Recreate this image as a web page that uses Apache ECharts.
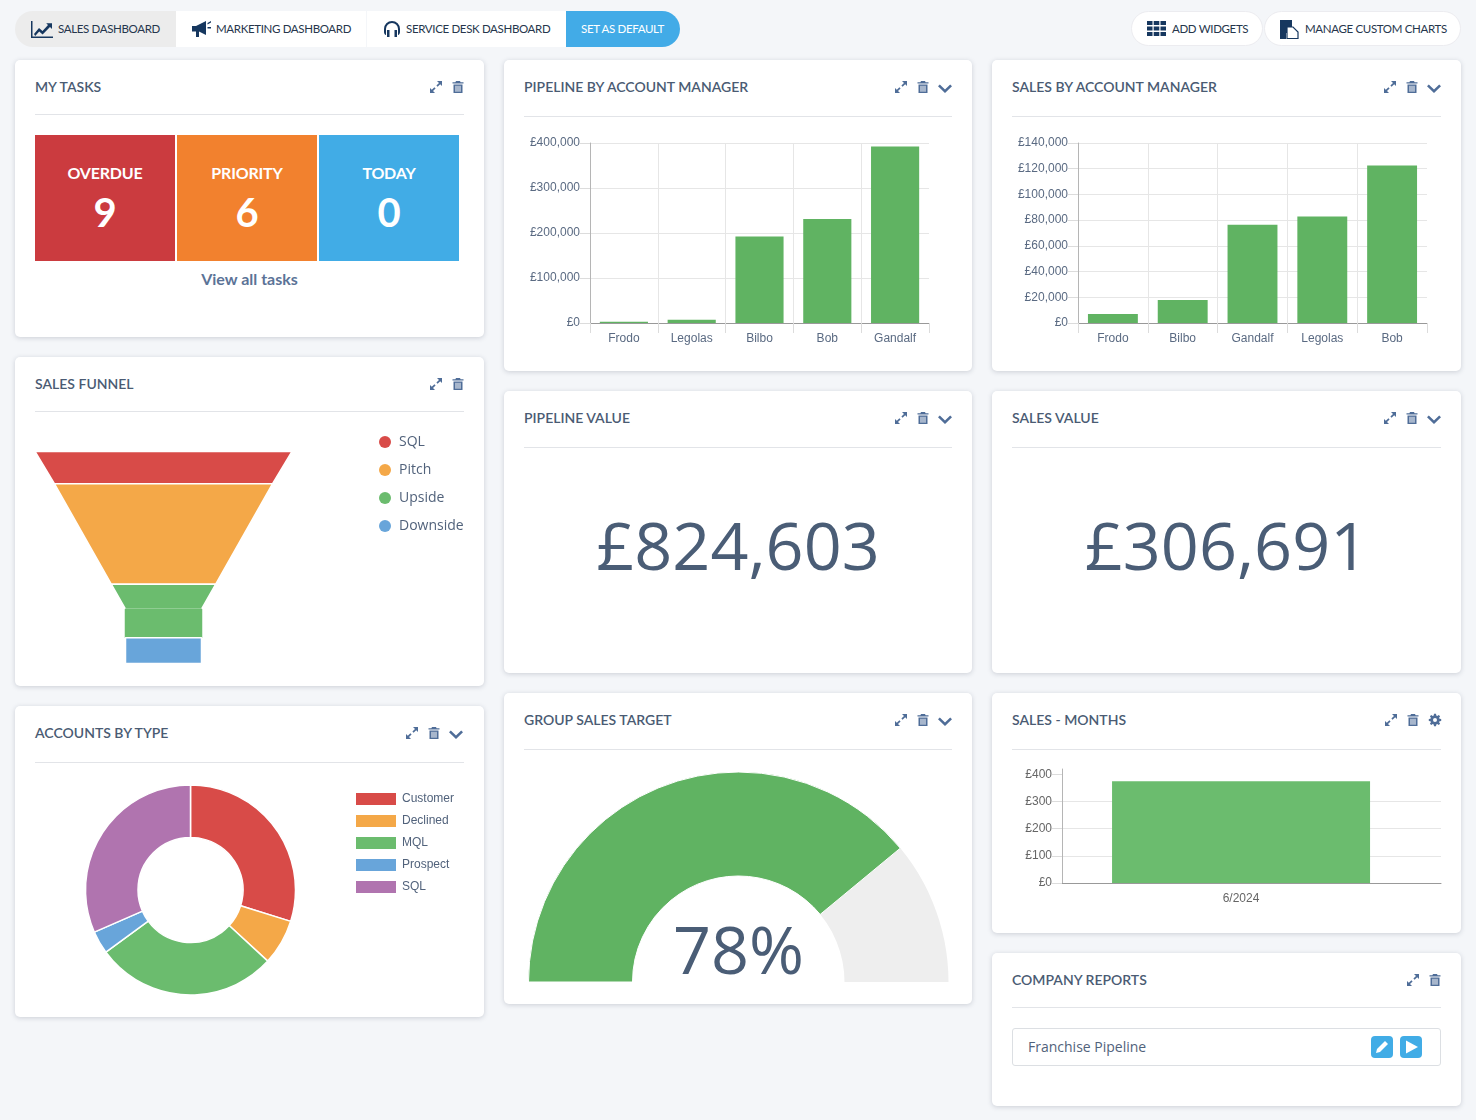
<!DOCTYPE html>
<html>
<head>
<meta charset="utf-8">
<title>Sales dashboard</title>
<script src="https://cdn.jsdelivr.net/npm/echarts@6/dist/echarts.min.js"></script>
<style>
  html, body { margin: 0; padding: 0; }
  body { position: relative; width: 1476px; height: 1120px; overflow: hidden; background: #f4f6f9; font-family: Lato, sans-serif; color: #46586f; }
  .t { position: absolute; white-space: nowrap; }
  .card { position: absolute; background: #fff; border-radius: 5px; box-shadow: 0 1px 5px rgba(60, 70, 90, .22); }
  .card h3 { position: absolute; left: 20px; top: 18px; margin: 0; font: 600 14px/18px Lato, sans-serif; color: #4a5b73; white-space: nowrap; }
  .card hr { position: absolute; left: 20px; right: 20px; margin: 0; border: 0; border-top: 1px solid #e2e4e8; }
  .chart { position: absolute; left: 0; width: 100%; }
  .ic { position: absolute; top: 20px; width: 14px; height: 14px; fill: #4f6d98; }
  .pill { position: absolute; top: 11px; height: 36px; background: #fff; }
  .tab { font: 400 11.500px/36px Lato, sans-serif; letter-spacing: -.34px; color: #26364c; }
  .tile { position: absolute; top: 135px; width: 140px; height: 126px; color: #fff; text-align: center; }
  .tile b { display: block; font: 700 16px/20px Lato, sans-serif; letter-spacing: -.2px; margin-top: 28px; }
  .tile span { display: block; font: 700 40px/48px Lato, sans-serif; margin-top: 5px; }
  .big { position: absolute; left: 0; width: 100%; text-align: center; font: 400 66.500px/80px "Open Sans", sans-serif; color: #4a5d76; }
</style>
</head>
<body>
<svg width="0" height="0" style="position:absolute">
  <symbol id="i-expand" viewBox="0 0 14 14"><path d="M8 1h5v5l-1.800-1.800-2.600 2.600-1.200-1.200 2.600-2.600zM6 13H1V8l1.800 1.800 2.600-2.600 1.200 1.200-2.600 2.600z"/></symbol>
  <symbol id="i-trash" viewBox="0 0 14 14"><path d="M5 1h4l.6 1.200H12.500v1.300h-11V2.200h2.900zM2.500 4.500h9V13h-9zM4.500 5.800v5.900h1V5.800zM6.500 5.800v5.900h1V5.800zM8.500 5.800v5.900h1V5.800z" fill-rule="evenodd"/></symbol>
  <symbol id="i-chev" viewBox="0 0 14 14"><path d="M1.800 3.500 7 8.500l5.200-5 1.800 1.800L7 12 0 5.300z"/></symbol>
  <symbol id="i-gear" viewBox="0 0 14 14"><path fill-rule="evenodd" d="M6 .8h2l.3 1.700 1 .4 1.400-1 1.400 1.400-1 1.400.4 1 1.700.3v2l-1.700.3-.4 1 1 1.400-1.400 1.400-1.400-1-1 .4-.3 1.700H6l-.3-1.700-1-.4-1.400 1-1.400-1.400 1-1.400-.4-1L.8 8V6l1.700-.3.4-1-1-1.400 1.400-1.400 1.400 1 1-.4zM7 5a2 2 0 1 0 0 4 2 2 0 0 0 0-4z"/></symbol>
</svg>

<!-- top bar -->
<div class="pill" style="left:15px;width:161px;background:#ececec;border-radius:18px 0 0 18px"></div>
<div class="pill" style="left:176px;width:190px;"></div>
<div class="pill" style="left:367px;width:199px;"></div>
<div class="pill" style="left:566px;width:114px;background:#42abe7;border-radius:0 18px 18px 0"></div>
<svg class="t" style="left:31px;top:21px" width="22" height="17" viewBox="0 0 22 17" fill="#16375f"><path d="M0 0h1.500v15.500H22V17H0z"/><path d="M3 13l5-6 3.500 3L17 4l-1.800-1.800H21V8l-2-2-7.400 7.500L8.200 10.500 4.200 15z"/></svg>
<div class="t tab" style="left:58px;top:11px">SALES DASHBOARD</div>
<svg class="t" style="left:192px;top:21px" width="19" height="17" viewBox="0 0 19 17" fill="#16375f"><path d="M0 5h4l10-5v14L7 10.500V16H4v-5.500H0z"/><path d="M15.500 2 19 0v1.500L15.500 3.500zM15.500 6H19v1.500h-3.500z"/></svg>
<div class="t tab" style="left:216px;top:11px">MARKETING DASHBOARD</div>
<svg class="t" style="left:384px;top:21px" width="16" height="17" viewBox="0 0 16 17" fill="#16375f"><path d="M8 0a8 8 0 0 1 8 8v3c0 1.500-.8 3-2 3V8a6 6 0 0 0-12 0v6c-1.200 0-2-1.500-2-3V8a8 8 0 0 1 8-8z"/><path d="M3 9h2.500v7H3zM10.500 9H13v7h-2.500z"/></svg>
<div class="t tab" style="left:406px;top:11px">SERVICE DESK DASHBOARD</div>
<div class="t tab" style="left:581px;top:11px;color:#fff">SET AS DEFAULT</div>

<div class="pill" style="left:1131px;width:130px;height:33px;border:1px solid #ececf0;border-radius:18px"></div>
<div class="pill" style="left:1264px;width:195px;height:33px;border:1px solid #ececf0;border-radius:18px"></div>
<svg class="t" style="left:1147px;top:21px" width="19" height="15" viewBox="0 0 19 15" fill="#16375f"><path d="M0 0h5.500v4H0zM6.700 0h5.600v4H6.700zM13.500 0H19v4h-5.500zM0 5.500h5.500v4H0zM6.700 5.500h5.600v4H6.700zM13.500 5.500H19v4h-5.500zM0 11h5.500v4H0zM6.700 11h5.600v4H6.700zM13.500 11H19v4h-5.500z"/></svg>
<div class="t tab" style="left:1172px;top:11px">ADD WIDGETS</div>
<svg class="t" style="left:1280px;top:20px" width="19" height="19" viewBox="0 0 19 19"><path d="M0 0h12v13H6v6H0z" fill="#16375f"/><path d="M7 7h6l5 5v6.500H7z" fill="#fff" stroke="#16375f" stroke-width="1.200"/></svg>
<div class="t tab" style="left:1305px;top:11px">MANAGE CUSTOM CHARTS</div>

<!-- left column -->
<div class="card" style="left:15px;top:60px;width:469px;height:277px">
  <h3>MY TASKS</h3>
  <svg class="ic" style="left:414px"><use href="#i-expand"/></svg>
  <svg class="ic" style="left:436px"><use href="#i-trash"/></svg>
  <hr style="top:54px">
</div>
<div class="tile" style="left:35px;background:#cb3b3f"><b>OVERDUE</b><span>9</span></div>
<div class="tile" style="left:177px;background:#f2812e"><b>PRIORITY</b><span>6</span></div>
<div class="tile" style="left:319px;background:#41ace6"><b>TODAY</b><span>0</span></div>
<div class="t" style="left:15px;width:469px;top:269px;text-align:center;font:700 16px/20px Lato,sans-serif;color:#5b7397">View all tasks</div>

<div class="card" style="left:15px;top:357px;width:469px;height:329px">
  <h3>SALES FUNNEL</h3>
  <svg class="ic" style="left:414px"><use href="#i-expand"/></svg>
  <svg class="ic" style="left:436px"><use href="#i-trash"/></svg>
  <hr style="top:54px">
  <div class="chart" id="funnel" style="top:56px;height:270px"></div>
</div>

<div class="card" style="left:15px;top:706px;width:469px;height:311px">
  <h3>ACCOUNTS BY TYPE</h3>
  <svg class="ic" style="left:390px"><use href="#i-expand"/></svg>
  <svg class="ic" style="left:412px"><use href="#i-trash"/></svg>
  <svg class="ic" style="left:434px;top:21px"><use href="#i-chev"/></svg>
  <hr style="top:56px">
  <div class="chart" id="accounts" style="top:56px;height:250px"></div>
</div>

<!-- middle column -->
<div class="card" style="left:504px;top:60px;width:468px;height:311px">
  <h3>PIPELINE BY ACCOUNT MANAGER</h3>
  <svg class="ic" style="left:390px"><use href="#i-expand"/></svg>
  <svg class="ic" style="left:412px"><use href="#i-trash"/></svg>
  <svg class="ic" style="left:434px;top:21px"><use href="#i-chev"/></svg>
  <hr style="top:56px">
  <div class="chart" id="pipelineBar" style="top:60px;height:250px"></div>
</div>

<div class="card" style="left:504px;top:391px;width:468px;height:282px">
  <h3>PIPELINE VALUE</h3>
  <svg class="ic" style="left:390px"><use href="#i-expand"/></svg>
  <svg class="ic" style="left:412px"><use href="#i-trash"/></svg>
  <svg class="ic" style="left:434px;top:21px"><use href="#i-chev"/></svg>
  <hr style="top:56px">
  <div class="big" id="pipelineValue" style="top:113px"></div>
</div>

<div class="card" style="left:504px;top:693px;width:468px;height:311px">
  <h3>GROUP SALES TARGET</h3>
  <svg class="ic" style="left:390px"><use href="#i-expand"/></svg>
  <svg class="ic" style="left:412px"><use href="#i-trash"/></svg>
  <svg class="ic" style="left:434px;top:21px"><use href="#i-chev"/></svg>
  <hr style="top:56px">
  <div class="chart" id="target" style="top:56px;height:255px"></div>
</div>

<!-- right column -->
<div class="card" style="left:992px;top:60px;width:469px;height:311px">
  <h3>SALES BY ACCOUNT MANAGER</h3>
  <svg class="ic" style="left:391px"><use href="#i-expand"/></svg>
  <svg class="ic" style="left:413px"><use href="#i-trash"/></svg>
  <svg class="ic" style="left:435px;top:21px"><use href="#i-chev"/></svg>
  <hr style="top:56px">
  <div class="chart" id="salesBar" style="top:60px;height:250px"></div>
</div>

<div class="card" style="left:992px;top:391px;width:469px;height:282px">
  <h3>SALES VALUE</h3>
  <svg class="ic" style="left:391px"><use href="#i-expand"/></svg>
  <svg class="ic" style="left:413px"><use href="#i-trash"/></svg>
  <svg class="ic" style="left:435px;top:21px"><use href="#i-chev"/></svg>
  <hr style="top:56px">
  <div class="big" id="salesValue" style="top:113px"></div>
</div>

<div class="card" style="left:992px;top:693px;width:469px;height:240px">
  <h3>SALES - MONTHS</h3>
  <svg class="ic" style="left:392px"><use href="#i-expand"/></svg>
  <svg class="ic" style="left:414px"><use href="#i-trash"/></svg>
  <svg class="ic" style="left:436px"><use href="#i-gear"/></svg>
  <hr style="top:56px">
  <div class="chart" id="monthsBar" style="top:57px;height:183px"></div>
</div>

<div class="card" style="left:992px;top:953px;width:469px;height:153px">
  <h3>COMPANY REPORTS</h3>
  <svg class="ic" style="left:414px"><use href="#i-expand"/></svg>
  <svg class="ic" style="left:436px"><use href="#i-trash"/></svg>
  <hr style="top:54px">
  <div style="position:absolute;left:20px;top:75px;width:427px;height:36px;border:1px solid #dcdfe3;border-radius:3px"></div>
  <div class="t" style="left:36px;top:84px;font:400 14px/20px 'Open Sans',sans-serif;color:#51627b">Franchise Pipeline</div>
  <svg class="t" style="left:379px;top:83px" width="22" height="22" viewBox="0 0 22 22"><rect width="22" height="22" rx="4" fill="#41ace6"/><path d="M14 5l3 3-8 8-4 1 1-4z" fill="#fff"/></svg>
  <svg class="t" style="left:408px;top:83px" width="22" height="22" viewBox="0 0 22 22"><rect width="22" height="22" rx="4" fill="#41ace6"/><path d="M6 4.500 18 11 6 17.500z" fill="#fff"/></svg>
</div>

<script>
const pipelineManagers = ['Frodo', 'Legolas', 'Bilbo', 'Bob', 'Gandalf'];
const pipelineAmounts = [2600, 7000, 192000, 231000, 392000];

const salesManagers = ['Frodo', 'Bilbo', 'Gandalf', 'Legolas', 'Bob'];
const salesAmounts = [7000, 17900, 76500, 82800, 122491];

const months = ['6/2024'];
const monthAmounts = [375];

const pipelineTotal = '£824,603';
const salesTotal = '£306,691';

// funnel is drawn as percent widths, the neck needs its own segment
const funnelStages = ['SQL', 'Pitch', 'Upside', 'Upside', 'Downside'];
const funnelWidths = [100, 85, 41, 30, 30];
const funnelHeights = ['15.200%', '47.400%', '11.800%', '13.400%', '12.200%'];
const funnelColors = ['#d84b48', '#f4a848', '#6bbc6e', '#6bbc6e', '#68a5da'];
const funnelLegend = ['SQL', 'Pitch', 'Upside', 'Downside'];

const accountTypes = ['Customer', 'Declined', 'MQL', 'Prospect', 'SQL'];
const accountCounts = [17, 4, 16, 2, 18];
const accountColors = ['#d84b48', '#f4a848', '#6bbc6e', '#68a5da', '#b074af'];

const targetPercent = 78;

const gbp = v => '£' + v.toLocaleString('en-GB');

document.getElementById('pipelineValue').textContent = pipelineTotal;
document.getElementById('salesValue').textContent = salesTotal;

function barChart(id, categories, values, opts) {
  const chart = echarts.init(document.getElementById(id));
  chart.setOption({
    animation: false,
    grid: opts.grid,
    xAxis: {
      type: 'category',
      data: categories,
      axisLine: { lineStyle: { color: '#999' } },
      axisTick: { show: opts.xTicks, length: 10, lineStyle: { color: '#dcdcdc' } },
      splitLine: { show: opts.xTicks, showMaxLine: false, lineStyle: { color: '#e6e6e6' } },
      axisLabel: { margin: 10, color: opts.labelColor, fontFamily: 'Liberation Sans', fontSize: 12, padding: opts.labelPadding || 0 },
    },
    yAxis: {
      type: 'value',
      min: 0,
      max: opts.max,
      interval: opts.interval,
      axisLine: { show: true, lineStyle: { color: '#b5b5b5' } },
      axisTick: { show: true, length: 10, customValues: opts.yTicks, lineStyle: { color: '#dcdcdc' } },
      splitLine: { showMaxLine: opts.topLine !== false, lineStyle: { color: '#e6e6e6' } },
      axisLabel: {
        margin: 10,
        showMaxLabel: opts.topLine !== false,
        color: opts.labelColor,
        fontFamily: 'Liberation Sans',
        fontSize: 12,
        formatter: gbp,
      },
    },
    series: [{
      type: 'bar',
      data: values,
      barWidth: opts.barWidth,
      barGap: opts.barGap,
      itemStyle: { color: opts.color },
    }].concat(opts.spacer ? [{ type: 'bar', data: [null], barWidth: opts.barWidth, barGap: opts.barGap }] : []),
  });
}

barChart('pipelineBar', pipelineManagers, pipelineAmounts, {
  grid: { left: 86, top: 23, width: 339, height: 180 },
  max: 400000, interval: 100000, barWidth: '71%', color: '#60b362', labelColor: '#5a6a82', xTicks: true,
});

barChart('salesBar', salesManagers, salesAmounts, {
  grid: { left: 86, top: 23, width: 349, height: 180 },
  max: 140000, interval: 20000, barWidth: '71.500%', color: '#60b362', labelColor: '#5a6a82', xTicks: true,
});

// the y axis runs a little past the top tick, and the bar sits left of the band centre
barChart('monthsBar', months, monthAmounts, {
  grid: { left: 70, top: 19, width: 379, height: 114 },
  max: 420, interval: 100, yTicks: [0, 100, 200, 300, 400], topLine: false,
  barWidth: 258, barGap: '-91.900%', spacer: true, labelPadding: [0, 21, 0, 0],
  color: '#6bbc6e', labelColor: '#666', xTicks: false,
});

const funnelChart = echarts.init(document.getElementById('funnel'));
funnelChart.setOption({
  animation: false,
  legend: {
    data: funnelLegend,
    orient: 'vertical',
    left: 359,
    top: 17,
    icon: 'circle',
    itemWidth: 12,
    itemHeight: 12,
    itemGap: 14,
    itemStyle: { borderWidth: 0 },
    textStyle: { fontFamily: 'Open Sans', fontSize: 14, color: '#51627b', padding: [0, 0, 0, 3] },
  },
  series: [{
    type: 'funnel',
    left: 20,
    top: 38.500,
    width: 257,
    height: 212,
    sort: 'none',
    gap: 0,
    min: 30,
    max: 100,
    minSize: 76,
    maxSize: 257,
    label: { show: false },
    labelLine: { show: false },
    itemStyle: { borderColor: '#fff', borderWidth: 1.500 },
    // the neck gets a green outline so no white line shows where it meets Upside
    data: funnelStages.map((name, i) => ({
      name,
      value: funnelWidths[i],
      itemStyle: {
        color: funnelColors[i],
        height: funnelHeights[i],
        borderColor: i === 3 ? funnelColors[i] : '#fff',
      },
    })),
  }],
});

const accountsChart = echarts.init(document.getElementById('accounts'));
accountsChart.setOption({
  animation: false,
  color: accountColors,
  legend: {
    data: accountTypes,
    orient: 'vertical',
    left: 336,
    top: 26,
    icon: 'rect',
    itemWidth: 40,
    itemHeight: 12,
    itemGap: 10,
    itemStyle: { borderWidth: 0 },
    textStyle: { fontFamily: 'Liberation Sans', fontSize: 12, color: '#51627b', padding: [0, 0, 0, 1] },
  },
  series: [{
    type: 'pie',
    center: [175.500, 128],
    radius: [52.500, 105],
    startAngle: 90,
    label: { show: false },
    labelLine: { show: false },
    itemStyle: { borderColor: '#fff', borderWidth: 1.500 },
    data: accountTypes.map((name, i) => ({ name, value: accountCounts[i] })),
  }],
});

const targetChart = echarts.init(document.getElementById('target'));
targetChart.setOption({
  animation: false,
  series: [{
    type: 'gauge',
    center: [234.500, 233],
    radius: 210,
    startAngle: 180,
    endAngle: 0,
    min: 0,
    max: 100,
    axisLine: { lineStyle: { width: 104, color: [[1, '#eee']] } },
    progress: { show: true, width: 104, itemStyle: { color: '#60b362', borderColor: '#fff', borderWidth: 1 } },
    pointer: { show: false },
    axisTick: { show: false },
    splitLine: { show: false },
    axisLabel: { show: false },
    title: { show: false },
    detail: {
      offsetCenter: [0, -27],
      formatter: '{value}%',
      fontFamily: 'Open Sans',
      fontWeight: 400,
      fontSize: 66.500,
      color: '#4a5d76',
    },
    data: [{ value: targetPercent }],
  }],
});
</script>
</body>
</html>
